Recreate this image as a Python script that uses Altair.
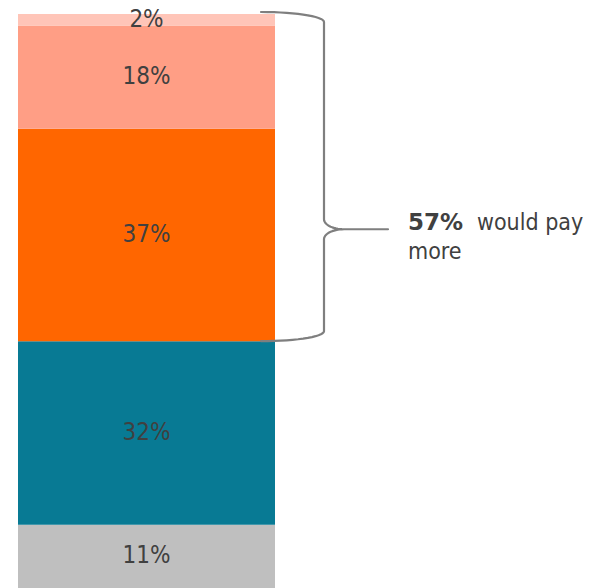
import altair as alt
import numpy as np
import pandas as pd

# ---- data ----
categories = ["Bottom", "Second", "Third", "Fourth", "Top"]
values = [11, 32, 37, 18, 2]
labels = ["11%", "32%", "37%", "18%", "2%"]
colors = ["#BFBFBF", "#087A94", "#FF6600", "#FF9E85", "#FFC5B8"]
annotation_bold = ["57%"]
annotation_rest = ["would pay"]
annotation_line2 = ["more"]

FONT = "DejaVu Sans Condensed, DejaVu Sans"
BOLD_FONT = "DejaVu Sans"
TEXT_COLOR = "#404040"
BRACE_COLOR = "#7F7F7F"

W, H, TOP = 590, 574, 14
PX_PER_UNIT = H / 100.0

cum = np.cumsum(values)
starts = cum - np.array(values)
df = pd.DataFrame({
    "cat": categories,
    "start": starts,
    "end": cum,
    "mid": (starts + cum) / 2,
    "label": labels,
    "color": colors,
})

# ---- brace (annotation geometry tied to the data) ----
b_top = float(cum[-1]) + 2 / PX_PER_UNIT   # just above the top of the bar
b_bottom = float(cum[1])                    # 11 + 32
b_tip = 62.5                                # where the brace points
ry = 10 / PX_PER_UNIT
x0, xv, xt, xtip = 261, 324, 344, 388
t = np.linspace(0, np.pi / 2, 16)
pts = []
pts += list(zip(x0 + (xv - x0) * np.sin(t), (b_top - ry) + ry * np.cos(t)))
pts += list(zip(xt - (xt - xv) * np.cos(t), (b_tip + ry) - ry * np.sin(t)))
pts += [(xtip, b_tip), (xt, b_tip)]
pts += list(zip(xt - (xt - xv) * np.sin(t), (b_tip - ry) + ry * np.cos(t)))
pts += list(zip(x0 + (xv - x0) * np.cos(t), (b_bottom + ry) - ry * np.sin(t)))
brace_df = pd.DataFrame({"bx": [p[0] for p in pts], "by": [p[1] for p in pts],
                         "o": list(range(len(pts)))})

yscale = alt.Scale(domain=[0, 100], nice=False, zero=False)
xscale = alt.Scale(domain=[0, W], nice=False, zero=False)

bars = alt.Chart(df).mark_bar(strokeWidth=0).encode(
    x=alt.value(18), x2=alt.value(275),
    y=alt.Y("start:Q", scale=yscale, axis=None), y2="end:Q",
    color=alt.Color("color:N", scale=None, legend=None),
)

bar_text = alt.Chart(df).mark_text(
    font=FONT, fontSize=24, color=TEXT_COLOR, align="center", baseline="middle"
).encode(
    x=alt.value(146.5),
    y=alt.Y("mid:Q", scale=yscale, axis=None),
    text="label:N",
)

brace = alt.Chart(brace_df).mark_line(
    color=BRACE_COLOR, strokeWidth=2.2, strokeCap="round", strokeJoin="round"
).encode(
    x=alt.X("bx:Q", scale=xscale, axis=None),
    y=alt.Y("by:Q", scale=yscale, axis=None),
    order="o:Q",
)

ann1 = alt.Chart(pd.DataFrame({"t": annotation_bold})).mark_text(
    font=BOLD_FONT, fontSize=23, fontWeight="bold", color=TEXT_COLOR,
    align="left", baseline="alphabetic"
).encode(x=alt.value(408), y=alt.value(230 - TOP), text="t:N")

ann2 = alt.Chart(pd.DataFrame({"t": annotation_rest})).mark_text(
    font=FONT, fontSize=23, color=TEXT_COLOR, align="left", baseline="alphabetic"
).encode(x=alt.value(477), y=alt.value(230 - TOP), text="t:N")

ann3 = alt.Chart(pd.DataFrame({"t": annotation_line2})).mark_text(
    font=FONT, fontSize=23, color=TEXT_COLOR, align="left", baseline="alphabetic"
).encode(x=alt.value(408), y=alt.value(259 - TOP), text="t:N")

chart = alt.layer(bars, bar_text, brace, ann1, ann2, ann3).properties(
    width=W, height=H,
    padding={"left": 0, "right": 0, "top": TOP, "bottom": 0},
    autosize=alt.AutoSizeParams(type="none"),
    background="white",
).configure_view(stroke=None)

chart.save("out.html", embed_options={"renderer": "svg", "actions": False})
